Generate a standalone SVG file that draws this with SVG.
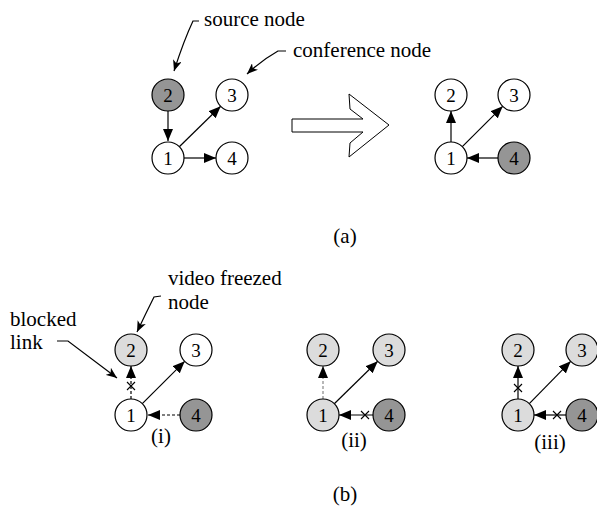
<svg xmlns="http://www.w3.org/2000/svg" width="597" height="509" viewBox="0 0 597 509" font-family="'Liberation Serif','Times New Roman','DejaVu Serif',serif">
<style>
text{font-family:"Liberation Serif","Times New Roman","DejaVu Serif",serif;fill:#000}
.lbl{font-size:21px}
.num{font-size:19px;text-anchor:middle}
.cap{font-size:21px;text-anchor:middle}
.n{stroke:#000;stroke-width:1.2}
.w{fill:#fff}
.d{fill:#959595}
.l{fill:#dcdcdc}
.e{stroke:#000;stroke-width:1.2;fill:none;marker-end:url(#ah)}
.ds{stroke-dasharray:3 2}
.g{stroke:#888}
.ld{stroke:#000;stroke-width:1.2;fill:none;marker-end:url(#lh)}
.x{stroke:#000;stroke-width:1.1}
</style>
<defs>
<marker id="ah" markerWidth="12" markerHeight="10" refX="12" refY="5" orient="auto" markerUnits="userSpaceOnUse"><path d="M0,0 L12,5 L0,10 z" fill="#000"/></marker>
<marker id="lh" markerWidth="11" markerHeight="9" refX="11" refY="4.5" orient="auto" markerUnits="userSpaceOnUse"><path d="M0,0 L11,4.5 L0,9 L3,4.5 z" fill="#000"/></marker>
</defs>

<g id="connectors">
<!-- (a) left -->
<line class="e" x1="168" y1="111" x2="168" y2="141"/>
<line class="e" x1="179.3" y1="146.7" x2="220.7" y2="106.3"/>
<line class="e" x1="184" y1="158" x2="216" y2="158"/>
<!-- (a) right -->
<line class="e" x1="451" y1="142" x2="451" y2="111"/>
<line class="e" x1="462.3" y1="146.7" x2="502.7" y2="106.3"/>
<line class="e" x1="498" y1="158" x2="467" y2="158"/>
<!-- (i) -->
<line class="e ds" x1="131" y1="399" x2="131" y2="366"/>
<line class="e" x1="142.3" y1="403.7" x2="184.7" y2="361.3"/>
<line class="e ds" x1="180" y1="415" x2="148" y2="415"/>
<!-- (ii) -->
<line class="e ds g" x1="323" y1="399" x2="323" y2="366"/>
<line class="e" x1="334.3" y1="403.7" x2="377.7" y2="361.3"/>
<line class="e" x1="373" y1="415" x2="339" y2="415"/>
<!-- (iii) -->
<line class="e" x1="518" y1="399" x2="518" y2="366"/>
<line class="e" x1="529.3" y1="403.7" x2="570.7" y2="361.3"/>
<line class="e" x1="566" y1="415" x2="534" y2="415"/>
<!-- blocked X marks -->
<path class="x" d="M127,382 L135,390 M135,382 L127,390"/>
<path class="x" d="M361,411 L369,419 M369,411 L361,419"/>
<path class="x" d="M514,384 L522,392 M522,384 L514,392"/>
<path class="x" d="M553,411 L561,419 M561,411 L553,419"/>
<!-- leaders -->
<path class="ld" d="M199,21 L193,21 Q184,40 174,71"/>
<path class="ld" d="M286,51 L278,51 Q262,60 247,74"/>
<path class="ld" d="M161,296 L154,297 Q146,313 137,332"/>
<path class="ld" d="M57,341 L68,341 L117,378"/>
</g>

<g id="big-arrow">
<polygon points="292,119 363,119 350,109 349,94 389,125 349,157 350,143 363,132 292,132" fill="#fff" stroke="#000" stroke-width="1"/>
</g>

<g id="a-left-2"><circle class="n d" cx="168" cy="95" r="16"/><text class="num" x="168" y="102">2</text></g>
<g id="a-left-3"><circle class="n w" cx="232" cy="95" r="16"/><text class="num" x="232" y="102">3</text></g>
<g id="a-left-1"><circle class="n w" cx="168" cy="158" r="16"/><text class="num" x="168" y="165">1</text></g>
<g id="a-left-4"><circle class="n w" cx="232" cy="158" r="16"/><text class="num" x="232" y="165">4</text></g>

<g id="a-right-2"><circle class="n w" cx="451" cy="95" r="16"/><text class="num" x="451" y="102">2</text></g>
<g id="a-right-3"><circle class="n w" cx="514" cy="95" r="16"/><text class="num" x="514" y="102">3</text></g>
<g id="a-right-1"><circle class="n w" cx="451" cy="158" r="16"/><text class="num" x="451" y="165">1</text></g>
<g id="a-right-4"><circle class="n d" cx="514" cy="158" r="16"/><text class="num" x="514" y="165">4</text></g>

<g id="i-2"><circle class="n l" cx="131" cy="350" r="16"/><text class="num" x="131" y="357">2</text></g>
<g id="i-3"><circle class="n w" cx="196" cy="350" r="16"/><text class="num" x="196" y="357">3</text></g>
<g id="i-1"><circle class="n w" cx="131" cy="415" r="16"/><text class="num" x="131" y="422">1</text></g>
<g id="i-4"><circle class="n d" cx="196" cy="415" r="16"/><text class="num" x="196" y="422">4</text></g>

<g id="ii-2"><circle class="n l" cx="323" cy="350" r="16"/><text class="num" x="323" y="357">2</text></g>
<g id="ii-3"><circle class="n l" cx="389" cy="350" r="16"/><text class="num" x="389" y="357">3</text></g>
<g id="ii-1"><circle class="n l" cx="323" cy="415" r="16"/><text class="num" x="323" y="422">1</text></g>
<g id="ii-4"><circle class="n d" cx="389" cy="415" r="16"/><text class="num" x="389" y="422">4</text></g>

<g id="iii-2"><circle class="n l" cx="518" cy="350" r="16"/><text class="num" x="518" y="357">2</text></g>
<g id="iii-3"><circle class="n l" cx="582" cy="350" r="16"/><text class="num" x="582" y="357">3</text></g>
<g id="iii-1"><circle class="n l" cx="518" cy="415" r="16"/><text class="num" x="518" y="422">1</text></g>
<g id="iii-4"><circle class="n d" cx="582" cy="415" r="16"/><text class="num" x="582" y="422">4</text></g>

<g id="labels">
<text class="lbl" x="204" y="26">source node</text>
<text class="lbl" x="293" y="57">conference node</text>
<text class="cap" x="345" y="243">(a)</text>
<text class="lbl" x="168" y="285">video freezed</text>
<text class="lbl" x="168" y="309">node</text>
<text class="lbl" x="10" y="326">blocked</text>
<text class="lbl" x="10" y="349">link</text>
<text class="cap" x="161" y="443">(i)</text>
<text class="cap" x="354" y="447">(ii)</text>
<text class="cap" x="550" y="449">(iii)</text>
<text class="cap" x="345" y="501">(b)</text>
</g>
</svg>
